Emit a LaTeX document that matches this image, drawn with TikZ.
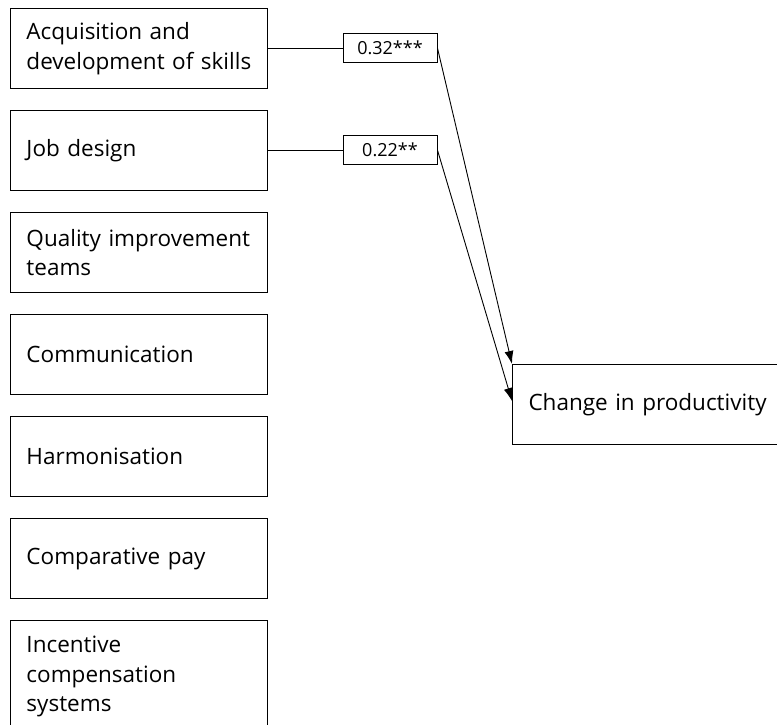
\documentclass[tikz,border=0pt]{standalone}
\usepackage{fontspec}
\setmainfont{Open Sans}
\usetikzlibrary{arrows.meta,calc}
\begin{document}
\begin{tikzpicture}[x=1pt,y=-1pt,
  factor/.style={draw=black, line width=1pt, rectangle, anchor=north west,
    minimum width=257pt, minimum height=80pt, text width=225pt,
    inner xsep=16pt, align=left, font=\fontsize{22.5}{29.5}\selectfont},
  coef/.style={draw=black, line width=0.9pt, rectangle, minimum width=94pt,
    minimum height=29pt, inner sep=0pt, font=\fontsize{18}{20}\selectfont},
  outcome/.style={draw=black, line width=1pt, rectangle, anchor=north west,
    minimum width=290pt, minimum height=80pt, text width=258pt,
    inner xsep=16pt, align=left, font=\fontsize{22.5}{29.5}\selectfont},
  link/.style={line width=0.9pt},
  arr/.style={line width=0.9pt, -{Latex[length=13pt,width=9pt]}}]
\useasboundingbox (0,0) rectangle (777,724);
\clip (0,0) rectangle (777,724);
\fill[white] (0,0) rectangle (777,724);
\node[factor] (f1) at (10,8) {Acquisition and\\development of skills};
\node[factor] (f2) at (10,110) {Job design};
\node[factor] (f3) at (10,212) {Quality improvement\\teams};
\node[factor] (f4) at (10,314) {Communication};
\node[factor] (f5) at (10,416) {Harmonisation};
\node[factor] (f6) at (10,518) {Comparative pay};
\node[factor, minimum height=112pt] (f7) at (10,620) {Incentive\\compensation\\systems};
\node[coef] (c1) at (390,48) {0.32***};
\node[coef] (c2) at (390,150) {0.22**};
\node[outcome] (cp) at (512,364) {Change in productivity};
\draw[link] (f1.east |- c1.west) -- (c1.west);
\draw[link] (f2.east |- c2.west) -- (c2.west);
\draw[arr] (c1.east) -- (cp.north west);
\draw[arr] (c2.east) -- ($(cp.north west)+(0,37)$);
\end{tikzpicture}
\end{document}
